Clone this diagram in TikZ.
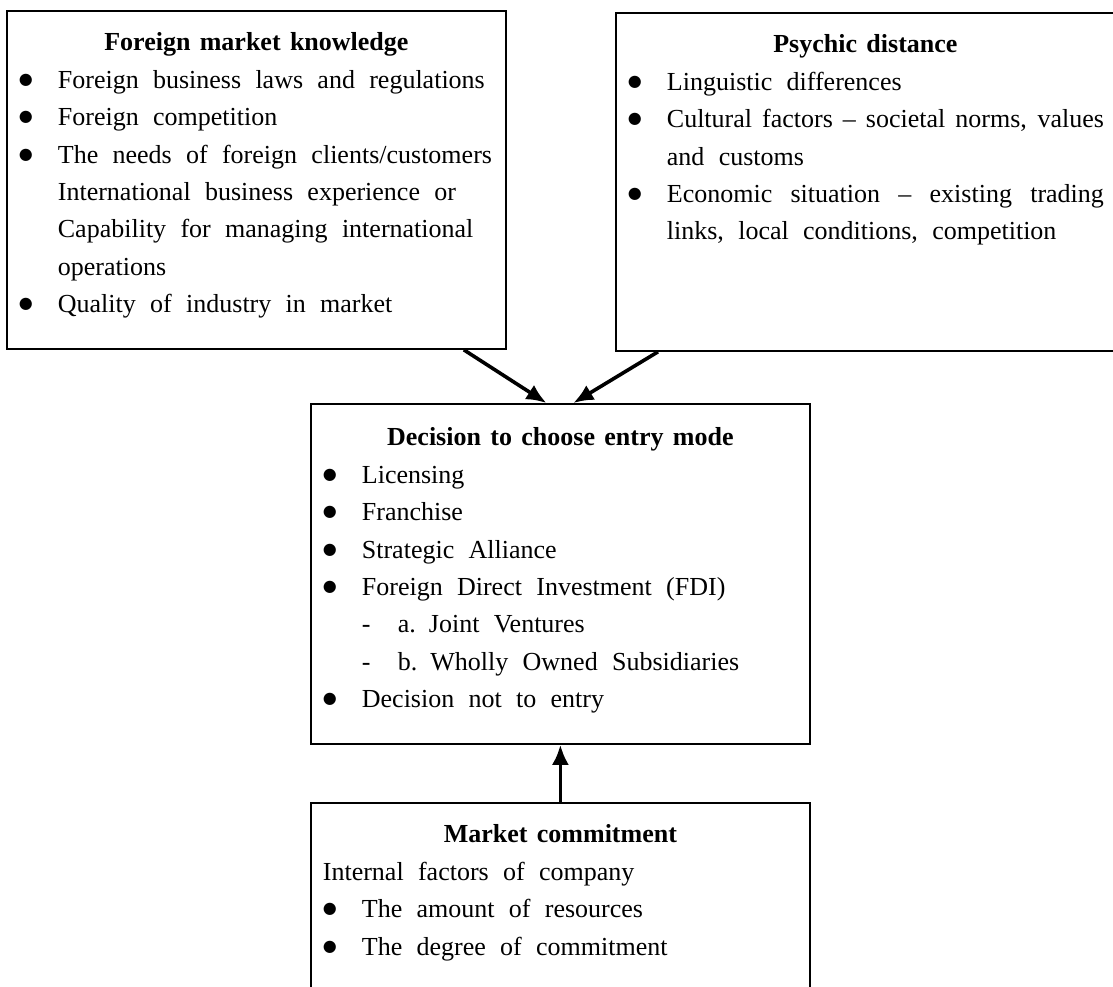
\documentclass[tikz,border=0pt]{standalone}
\usepackage{fontspec}
\setmainfont{Liberation Serif}
\newfontfamily\dotfont{DejaVu Sans}
\usepackage{tikz}
\usetikzlibrary{arrows.meta,positioning,calc}
\tikzset{panel/.style={draw,line width=1.8pt,anchor=north west,inner xsep=19pt,inner ysep=0pt,
    text width=461pt,text height=40pt,text depth=298pt,align=left,
    font=\fontsize{26}{37.4}\selectfont,
    execute at begin node={\spaceskip=0.55em plus 0.3em\relax}}}
\tikzset{link/.style={->,line width=3.6pt}}
\newcommand{\bdot}{\raisebox{4pt}{\dotfont\fontsize{16}{16}\selectfont ●}}
\newcommand{\bpt}[1]{\mbox{\makebox[32pt][l]{\hspace*{-7pt}\bdot}#1}}
\newcommand{\cpt}[1]{\mbox{\hspace*{32pt}#1}}
\newcommand{\ttl}[1]{\makebox[\linewidth][c]{\spaceskip=0.36em\bfseries #1}}
\newcommand{\jst}[1]{\makebox[437pt][s]{\spaceskip=0.3em plus 1fil\relax #1}}

\begin{document}
\begin{tikzpicture}[x=1pt,y=-1pt,>={Latex[length=20pt,width=17pt]}]
    \useasboundingbox (0,0) rectangle (1113,986);
    \node[panel] (know) at (6,10) {\ttl{Foreign market knowledge}\\
        \bpt{Foreign business laws and regulations}\\
        \bpt{Foreign competition}\\
        \bpt{The needs of foreign clients/customers}\\
        \cpt{International business experience or}\\
        \cpt{Capability for managing international}\\
        \cpt{operations}\\
        \bpt{Quality of industry in market}};
    \node[panel] (psych) at (615,12) {\ttl{Psychic distance}\\
        \bpt{Linguistic differences}\\
        \bpt{\jst{Cultural factors -- societal norms, values}}\\
        \cpt{and customs}\\
        \bpt{\jst{Economic situation -- existing trading}}\\
        \cpt{links, local conditions, competition}};
    \node[panel,text height=42pt] (decide) at (310,403) {\ttl{Decision to choose entry mode}\\
        \bpt{Licensing}\\
        \bpt{Franchise}\\
        \bpt{Strategic Alliance}\\
        \bpt{Foreign Direct Investment (FDI)}\\
        \cpt{\makebox[36pt][l]{-}a. Joint Ventures}\\
        \cpt{\makebox[36pt][l]{-}b. Wholly Owned Subsidiaries}\\
        \bpt{Decision not to entry}};
    \node[panel,text depth=250pt] (commit) at (310,802) {\ttl{Market commitment}\\
        \hspace*{-7pt}Internal factors of company\\
        \bpt{The amount of resources}\\
        \bpt{The degree of commitment}};
    \path[link] ([xshift=-43pt]know.south east) edge ([xshift=-14pt]decide.north);
    \path[link] ([xshift=43pt]psych.south west) edge ([xshift=13pt]decide.north);
    \path[link] (commit.north) edge (decide.south);
\end{tikzpicture}
\end{document}
